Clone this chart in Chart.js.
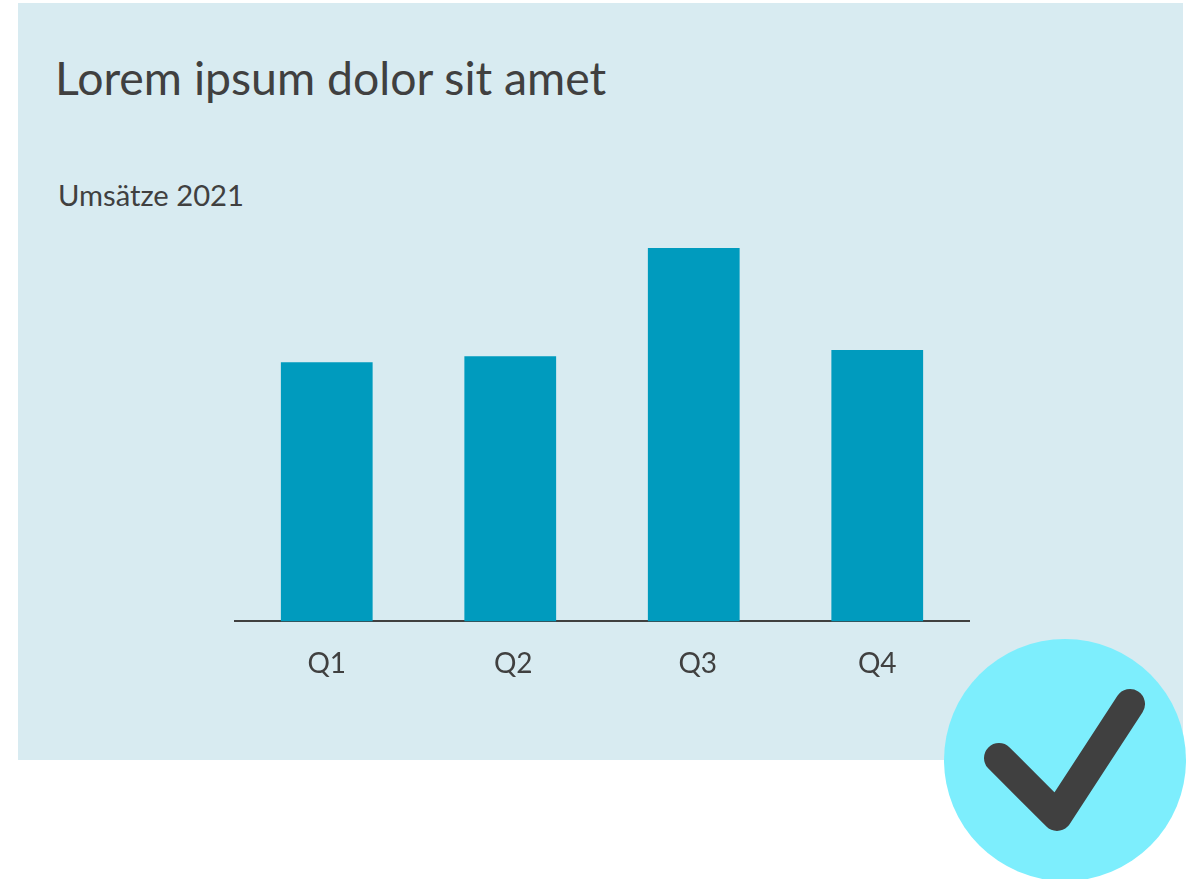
<!DOCTYPE html>
<html>
<head>
<meta charset="utf-8">
<title>Umsätze 2021</title>
<script src="https://cdn.jsdelivr.net/npm/chart.js@4"></script>
<style>
    html, body { margin: 0; padding: 0; background: #ffffff; overflow: hidden; }
    body { width: 1196px; height: 879px; position: relative; font-family: Lato, sans-serif; color: #404040; }
    #panel { position: absolute; left: 18px; top: 3px; width: 1165px; height: 757px; background: #d8ebf1; }
    #title { position: absolute; left: 55px; top: 49px; font-size: 46.4px; line-height: 56px; white-space: nowrap; }
    #subtitle { position: absolute; left: 58px; top: 178px; font-size: 29.2px; line-height: 34px; white-space: nowrap; }
    #wrap { position: absolute; left: 0; top: 0; width: 1196px; height: 879px; }
    #badge { position: absolute; left: 0; top: 0; }
</style>
</head>
<body>
<div id="panel"></div>
<div id="title">Lorem ipsum dolor sit amet</div>
<div id="subtitle">Umsätze 2021</div>
<div id="wrap"><canvas id="salesChart" width="1196" height="879"></canvas></div>
<svg id="badge" width="1196" height="879">
    <circle cx="1065" cy="760" r="121" fill="#7deefd"></circle>
    <polyline points="999,758 1057,816 1130,704" fill="none" stroke="#404040" stroke-width="30" stroke-linecap="round" stroke-linejoin="round"></polyline>
</svg>
<script>
const quarters = ['Q1', 'Q2', 'Q3', 'Q4'];
const sales = [69.4, 71, 100, 72.7];
const tickNudge = [0, 3, 4, 0]; // labels in the original sit a bit off the bar centres

const nudgeLabels = {
    id: 'nudgeLabels',
    afterUpdate(chart) {
        chart.scales.x.getLabelItems().forEach((item, i) => {
            item.options.translation[0] += tickNudge[i];
        });
    }
};

const ctx = document.getElementById('salesChart').getContext('2d');

new Chart(ctx, {
    type: 'bar',
    data: {
        labels: quarters,
        datasets: [{
            data: sales,
            backgroundColor: '#009bbe',
            barPercentage: 0.5,
            categoryPercentage: 1
        }]
    },
    options: {
        responsive: false,
        animation: false,
        layout: {
            padding: { left: 235, right: 227, top: 248, bottom: 180 }
        },
        plugins: {
            legend: { display: false },
            tooltip: { enabled: false }
        },
        scales: {
            x: {
                grid: { display: false },
                border: { color: '#404040', width: 2 },
                ticks: {
                    color: '#404040',
                    font: { family: 'Lato', size: 28 },
                    padding: 18,
                    maxRotation: 0
                }
            },
            y: {
                display: false,
                min: 0,
                max: 100
            }
        }
    },
    plugins: [nudgeLabels]
});
</script>
</body>
</html>
